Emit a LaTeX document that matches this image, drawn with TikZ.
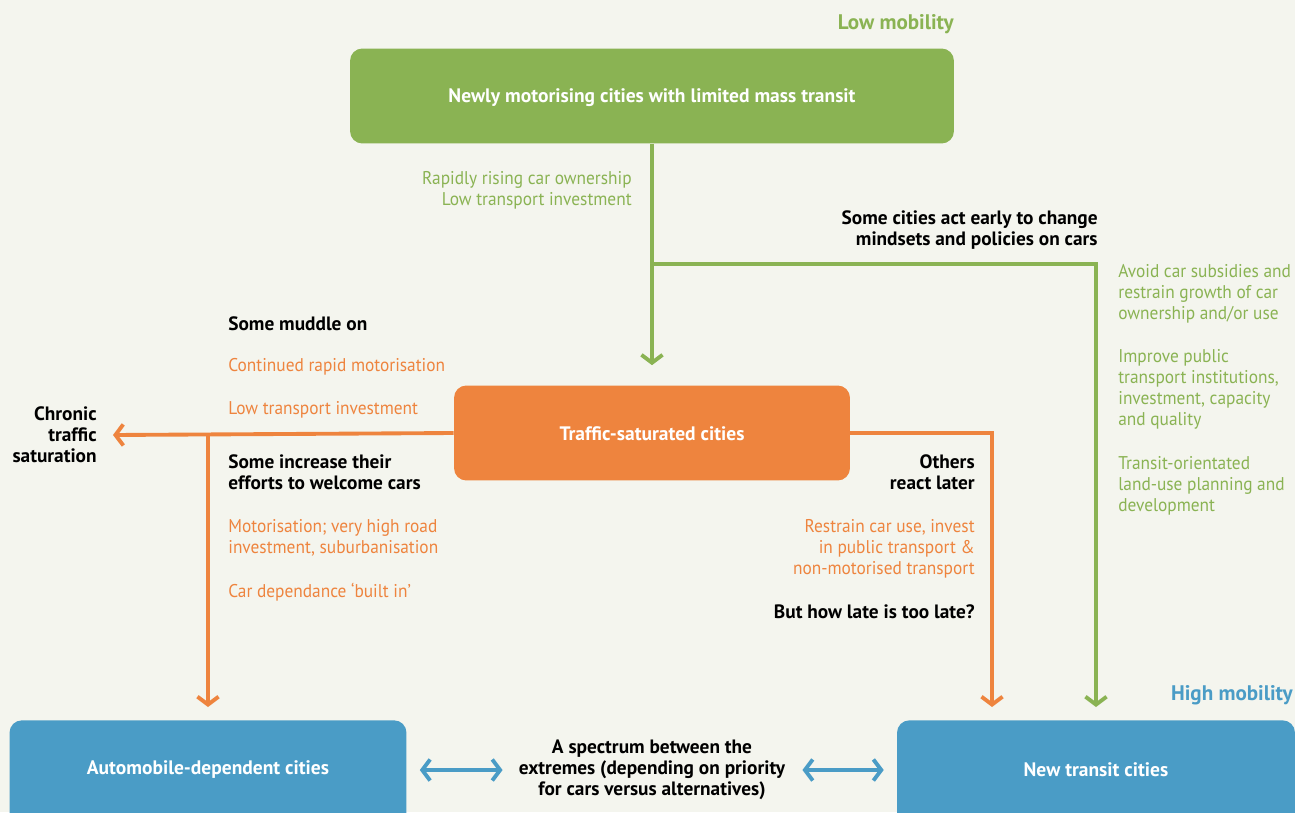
\documentclass[tikz,border=0pt]{standalone}
\usepackage{fontspec}
\setmainfont{PT Sans}
\newfontfamily\notefont{PT Sans}[FakeStretch=0.94, Ligatures=TeX]
\usetikzlibrary{arrows.meta,calc}
\definecolor{paperbg}{HTML}{F4F5EE}
\definecolor{mobgreen}{HTML}{8AB353}
\definecolor{satorange}{HTML}{EE843E}
\definecolor{transblue}{HTML}{4A9CC6}
\tikzset{
  cityBox/.style={rounded corners=7pt, inner sep=0pt},
  cityText/.style={text=white, font=\bfseries\fontsize{11.1}{13}\selectfont, inner sep=0pt},
  noteText/.style={font=\notefont\fontsize{10.5}{12}\selectfont, inner sep=0pt},
  noteBold/.style={font=\bfseries\fontsize{11}{12}\selectfont, inner sep=0pt},
  mobLabel/.style={font=\bfseries\fontsize{12}{14}\selectfont, inner sep=0pt},
  flow/.style={line width=2.2pt, -{Straight Barb[length=4.5pt,width=12pt,line width=2.2pt]}},
  biflow/.style={line width=2.2pt, {Straight Barb[length=4.5pt,width=12pt,line width=2.2pt]}-{Straight Barb[length=4.5pt,width=12pt,line width=2.2pt]}},
}
\begin{document}
\begin{tikzpicture}[x=0.02cm, y=-0.02cm]
  % Page (background)
  \fill[paperbg] (0,0) rectangle (1295,812);
  \useasboundingbox (0,0) rectangle (1295,812);
  \clip (0,0) rectangle (1295,812);
  % Mobility labels
  \node[mobLabel, mobgreen, anchor=east] (lowMob) at (954,24) {Low mobility};
  \node[mobLabel, transblue, anchor=east] (highMob) at (1293,695) {High mobility};
  % The three kinds of city
  \node[cityBox, fill=mobgreen, minimum width=12.08cm, minimum height=1.9cm] (newly) at (652,96) {};
  \node[cityText] (newlyText) at (652,98) {Newly motorising cities with limited mass transit};
  \node[cityBox, fill=satorange, minimum width=7.92cm, minimum height=1.9cm] (sat) at (652,433) {};
  \node[cityText] (satText) at (652,434) {Traffic-saturated cities};
  \node[cityBox, fill=transblue, minimum width=7.94cm, minimum height=3cm, anchor=north] (autoBox) at (208,720) {};
  \node[cityText] (autoText) at (208,770) {Automobile-dependent cities};
  \node[cityBox, fill=transblue, minimum width=7.96cm, minimum height=3cm, anchor=north] (transitBox) at (1096,720) {};
  \node[cityText] (transitText) at (1096,770) {New transit cities};
  % Green route: motorising cities
  \node[noteText, mobgreen, align=right, anchor=east] (risingCars) at (632,190) {Rapidly rising car ownership\\Low transport investment};
  \node[noteBold, align=right, anchor=east] (actEarly) at (1098,230) {Some cities act early to change\\mindsets and policies on cars};
  \node[noteText, mobgreen, align=left, anchor=north west] (avoidSubs) at (1118,264) {Avoid car subsidies and\\restrain growth of car\\ownership and/or use};
  \node[noteText, mobgreen, align=left, anchor=north west] (improvePT) at (1118,349) {Improve public\\transport institutions,\\investment, capacity\\and quality};
  \node[noteText, mobgreen, align=left, anchor=north west] (transitPlan) at (1118,456) {Transit-orientated\\land-use planning and\\development};
  \coordinate (greenSplit) at (652,264);
  \draw[flow, mobgreen] (newly.south) -- ([yshift=0.4cm]sat.north);
  \draw[flow, mobgreen] (greenSplit) -| ([yshift=0.26cm]transitBox.north);
  % Orange route: traffic-saturated cities
  \node[noteBold, anchor=west] (muddle) at (228,324) {Some muddle on};
  \node[noteText, satorange, anchor=west] (contMotor) at (228,367) {Continued rapid motorisation};
  \node[noteText, satorange, anchor=west] (lowInvest) at (228,410) {Low transport investment};
  \node[noteBold, align=right, anchor=east] (chronic) at (97,435) {Chronic\\traffic\\saturation};
  \node[noteBold, align=left, anchor=north west] (welcome) at (228,454) {Some increase their\\efforts to welcome cars};
  \node[noteText, satorange, align=left, anchor=north west] (highRoad) at (228,519) {Motorisation; very high road\\investment, suburbanisation};
  \node[noteText, satorange, anchor=west] (builtIn) at (228,592) {Car dependance `built in'};
  \node[noteBold, align=right, anchor=north east] (reactLater) at (975,454) {Others\\react later};
  \node[noteText, satorange, align=right, anchor=north east] (restrain) at (975,519) {Restrain car use, invest\\in public transport \&\\non-motorised transport};
  \node[noteBold, anchor=east] (howLate) at (975,612) {But how late is too late?};
  \coordinate (orangeSplit) at (208,433);
  \draw[flow, satorange] (sat.west) -- ([xshift=0.32cm]chronic.east);
  \draw[flow, satorange] (orangeSplit) -- ([yshift=0.26cm]autoBox.north);
  \draw[flow, satorange] (sat.east) -| ([xshift=-2.08cm, yshift=0.26cm]transitBox.north);
  % Spectrum between the extremes
  \node[noteBold, align=center] (spectrum) at (652,770) {A spectrum between the\\extremes (depending on priority\\for cars versus alternatives)};
  \draw[biflow, transblue] ($(autoBox.east |- spectrum.west)+(13,0)$) -- ($(spectrum.west)+(-16,0)$);
  \draw[biflow, transblue] ($(spectrum.east)+(17,0)$) -- ($(transitBox.west |- spectrum.east)+(-13,0)$);
\end{tikzpicture}
\end{document}
